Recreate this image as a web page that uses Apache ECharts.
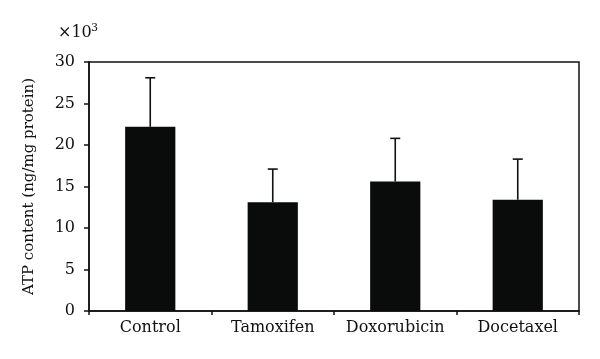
<!DOCTYPE html>
<html><head><meta charset="utf-8">
<script src="https://cdn.jsdelivr.net/npm/echarts@6/dist/echarts.min.js"></script>
<style>html,body{margin:0;padding:0;background:#fff}#c{width:600px;height:359px}</style>
</head><body><div id="c"></div>
<script>
const categories = ['Control', 'Tamoxifen', 'Doxorubicin', 'Docetaxel'];
const means = [22.2, 13.1, 15.6, 13.4];
const upperErrors = [28.1, 17.1, 20.8, 18.3];
const yTicks = [0, 5, 10, 15, 20, 25, 30];

const font = '"DejaVu Serif", "Liberation Serif", serif';
const chart = echarts.init(document.getElementById('c'), null, {renderer: 'canvas'});
chart.setOption({
  animation: false,
  grid: {left: 89, right: 21, top: 62, bottom: 48, show: true, borderColor: '#111', borderWidth: 1.5, backgroundColor: 'transparent'},
  xAxis: {
    type: 'category', data: categories,
    axisLine: {lineStyle: {color: '#111', width: 1.5}},
    axisTick: {show: true, interval: 0, inside: false, length: 4, lineStyle: {color: '#111', width: 1.5}},
    axisLabel: {interval: 0, hideOverlap: false, color: '#111', fontFamily: font, fontSize: 16, margin: 9}
  },
  yAxis: {
    type: 'value', min: yTicks[0], max: yTicks[yTicks.length - 1], interval: 5,
    name: 'ATP content (ng/mg protein)', nameLocation: 'middle', nameGap: 52,
    nameTextStyle: {color: '#111', fontFamily: font, fontSize: 15},
    axisLine: {show: true, lineStyle: {color: '#111', width: 1.5}},
    axisTick: {show: true, length: 5, lineStyle: {color: '#111', width: 1.5}},
    splitLine: {show: false},
    axisLabel: {color: '#111', fontFamily: font, fontSize: 16, margin: 14}
  },
  graphic: [{
    type: 'text', left: 58, top: 25,
    style: {text: '×10', fill: '#111', font: '16px ' + font}
  }, {
    type: 'text', left: 91, top: 23,
    style: {text: '3', fill: '#111', font: '11px ' + font}
  }],
  series: [{
    type: 'bar', data: means, barWidth: '41%',
    itemStyle: {color: '#0a0c0c'}, z: 2
  }, {
    type: 'custom', z: 3,
    data: categories.map((c, i) => [i, means[i], upperErrors[i]]),
    renderItem: function (params, api) {
      const x = api.value(0);
      const base = api.coord([x, api.value(1)]);
      const top = api.coord([x, api.value(2)]);
      const cap = 5;
      const style = {stroke: '#111', lineWidth: 1.6};
      return {type: 'group', children: [
        {type: 'line', shape: {x1: base[0], y1: base[1], x2: top[0], y2: top[1]}, style: style},
        {type: 'line', shape: {x1: top[0] - cap, y1: top[1], x2: top[0] + cap, y2: top[1]}, style: style}
      ]};
    }
  }]
});
</script></body></html>
